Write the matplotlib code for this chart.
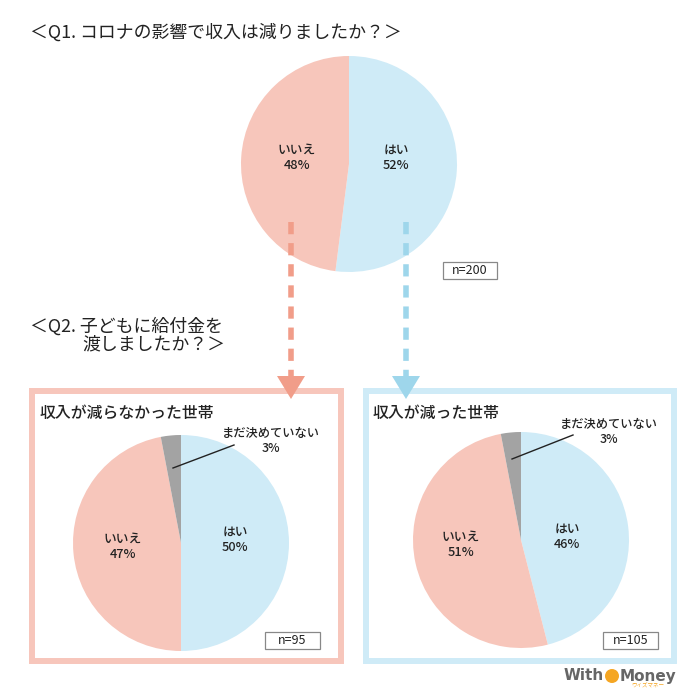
import matplotlib
matplotlib.use('Agg')
import matplotlib.pyplot as plt
from matplotlib.patches import Rectangle, Polygon, Circle

plt.rcParams['font.family'] = ['Noto Sans CJK JP', 'DejaVu Sans']

# ── データ ───────────────────────────────────────────────
q1_labels = ["はい", "いいえ"]
q1_values = [52, 48]
q1_n = 200

q2_labels = ["はい", "いいえ", "まだ決めていない"]
q2_not_reduced = [50, 47, 3]   # 収入が減らなかった世帯
q2_reduced = [46, 51, 3]       # 収入が減った世帯
q2_n = [95, 105]
group_titles = ["収入が減らなかった世帯", "収入が減った世帯"]

PINK = '#F7C6BB'
BLUE = '#CFEBF7'
GRAY = '#A3A3A3'
PINK_ARROW = '#F19D89'
BLUE_ARROW = '#9ED6EB'
TEXT = '#222222'

H = 690
def Y(py):
    return H - py

fig = plt.figure(figsize=(7.0, 6.9), dpi=100)
ax = fig.add_axes([0, 0, 1, 1])
ax.set_xlim(0, 700)
ax.set_ylim(0, H)
ax.set_aspect('equal')
ax.axis('off')

def draw_pie(cx, cy, values, colors):
    ax.pie(values, colors=colors, startangle=90, counterclock=False,
           center=(cx, Y(cy)), radius=108, frame=True,
           wedgeprops=dict(linewidth=0))

def label(x, y, s, size=9.2):
    ax.text(x, Y(y), s, ha='center', va='center', fontsize=size,
            color=TEXT, linespacing=1.25, fontweight='medium')

def nbox(x0, x1, y0, y1, n):
    ax.add_patch(Rectangle((x0, Y(y1)), x1 - x0, y1 - y0, facecolor='white',
                           edgecolor='#888888', linewidth=0.9))
    ax.text((x0 + x1) / 2, Y((y0 + y1) / 2), f"n={n}", ha='center', va='center',
            fontsize=9, color=TEXT)

# ── Q1 ─────────────────────────────────────────────────
ax.text(30, Y(33), "＜Q1. コロナの影響で収入は減りましたか？＞", fontsize=12.9,
        color=TEXT, va='center', ha='left')
draw_pie(349, 164, q1_values, [BLUE, PINK])
label(396, 158, f"{q1_labels[0]}\n{q1_values[0]}%")
label(297, 158, f"{q1_labels[1]}\n{q1_values[1]}%")
nbox(443, 497, 262, 279, q1_n)

# ── 矢印 ───────────────────────────────────────────────
for x, c in [(291, PINK_ARROW), (406, BLUE_ARROW)]:
    ax.plot([x, x], [Y(222), Y(376)], color=c, linewidth=4.0,
            dashes=(2.2, 1.6), solid_capstyle='butt', dash_capstyle='butt')
    ax.add_patch(Polygon([(x - 14, Y(376)), (x + 14, Y(376)), (x, Y(399))],
                         closed=True, facecolor=c, edgecolor='none', zorder=5))

# ── Q2 ─────────────────────────────────────────────────
ax.text(30, Y(326), "＜Q2. 子どもに給付金を", fontsize=12.9, color=TEXT,
        va='center', ha='left')
ax.text(82, Y(344), "渡しましたか？＞", fontsize=12.9, color=TEXT,
        va='center', ha='left')

# 枠
ax.add_patch(Rectangle((32, Y(661)), 309, 270, facecolor='none',
                       edgecolor=PINK, linewidth=4.3, zorder=4))
ax.add_patch(Rectangle((366, Y(661)), 308, 270, facecolor='none',
                       edgecolor=BLUE, linewidth=4.3, zorder=4))

ax.text(40, Y(413), group_titles[0], fontsize=11.4, color=TEXT, va='center',
        ha='left', fontweight='medium')
ax.text(373, Y(413), group_titles[1], fontsize=11.4, color=TEXT, va='center',
        ha='left', fontweight='medium')

# 左：収入が減らなかった世帯
draw_pie(181, 543, q2_not_reduced, [BLUE, PINK, GRAY])
label(235, 540, f"{q2_labels[0]}\n{q2_not_reduced[0]}%")
label(123, 547, f"{q2_labels[1]}\n{q2_not_reduced[1]}%")
label(271, 441, f"{q2_labels[2]}\n{q2_not_reduced[2]}%", size=8.8)
ax.plot([173, 234], [Y(468), Y(445)], color=TEXT, linewidth=1.0)
nbox(265, 320, 632, 649, q2_n[0])

# 右：収入が減った世帯
draw_pie(521, 540, q2_reduced, [BLUE, PINK, GRAY])
label(567, 537, f"{q2_labels[0]}\n{q2_reduced[0]}%")
label(461, 545, f"{q2_labels[1]}\n{q2_reduced[1]}%")
label(609, 432, f"{q2_labels[2]}\n{q2_reduced[2]}%", size=8.8)
ax.plot([512, 573], [Y(459), Y(435)], color=TEXT, linewidth=1.0)
nbox(603, 658, 632, 649, q2_n[1])

# ── ロゴ ───────────────────────────────────────────────
ax.text(604, Y(676), "With", fontsize=11, fontweight='bold', color='#666666',
        ha='right', va='center', family='DejaVu Sans')
ax.add_patch(Circle((612, Y(676)), 7, facecolor='#F5A623', edgecolor='none'))
ax.text(620, Y(676), "Money", fontsize=11, fontweight='bold', color='#666666',
        ha='left', va='center', family='DejaVu Sans')
ax.text(648, Y(686), "ウィズマネー", fontsize=4, color='#F5A623', ha='center', va='center')

ax.set_xlim(0, 700)
ax.set_ylim(0, H)
ax.axis('off')

fig.savefig("out.png", dpi=100, facecolor='white')
